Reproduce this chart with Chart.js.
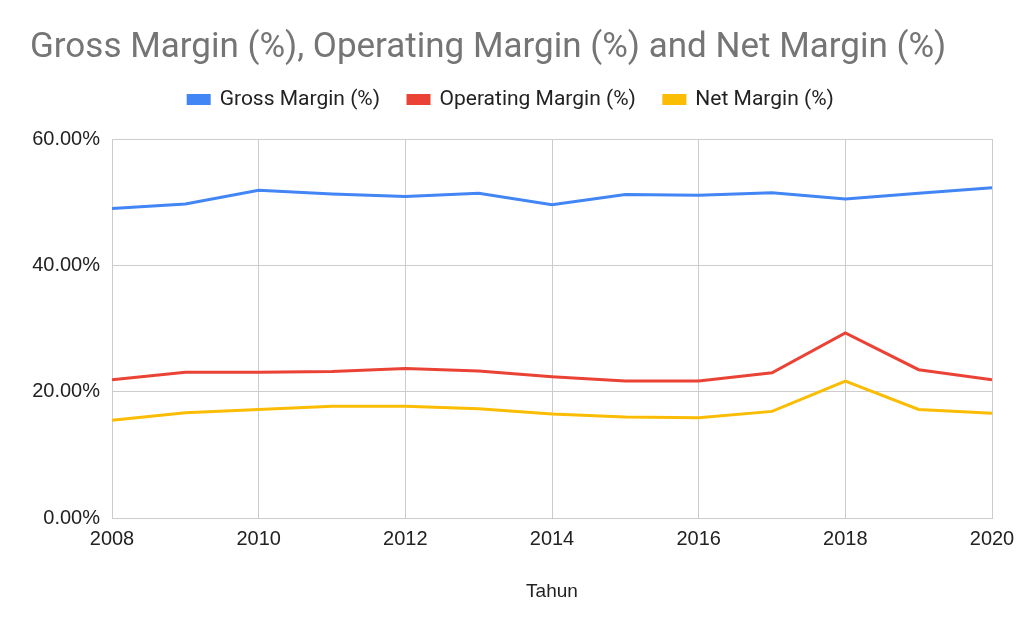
<!DOCTYPE html>
<html>
<head>
<meta charset="utf-8">
<script src="https://cdn.jsdelivr.net/npm/chart.js@4"></script>
<style>
html,body{margin:0;padding:0;background:#fff;}
#wrap{width:1024px;height:633px;position:relative;}
</style>
</head>
<body>
<div id="wrap"><canvas id="c"></canvas></div>
<script>
const years = [2008, 2009, 2010, 2011, 2012, 2013, 2014, 2015, 2016, 2017, 2018, 2019, 2020];
const grossMargin = [49.0, 49.7, 51.9, 51.3, 50.9, 51.4, 49.6, 51.2, 51.1, 51.5, 50.5, 51.4, 52.3];
const operatingMargin = [21.9, 23.1, 23.1, 23.2, 23.7, 23.3, 22.4, 21.7, 21.7, 23.0, 29.3, 23.5, 21.9];
const netMargin = [15.5, 16.7, 17.2, 17.7, 17.7, 17.3, 16.5, 16.0, 15.9, 16.9, 21.7, 17.2, 16.6];
const seriesNames = ['Gross Margin (%)', 'Operating Margin (%)', 'Net Margin (%)'];
const titleText = 'Gross Margin (%), Operating Margin (%) and Net Margin (%)';
const xTitle = 'Tahun';

const toPts = arr => arr.map((v, i) => ({x: years[i], y: v}));
const font = 'Roboto, Liberation Sans, Arial, sans-serif';
const font2 = 'Liberation Sans, Arial, sans-serif';

const legendSpacer = {
  id: 'legendSpacer',
  beforeLayout(chart) {
    const lg = chart.legend;
    if (lg && !lg._spacerWrapped) {
      const orig = lg.fit;
      lg.fit = function () { orig.call(this); this.height += 19; };
      lg._spacerWrapped = true;
    }
  }
};

new Chart(document.getElementById('c'), {
  type: 'line',
  data: {
    datasets: [
      {label: seriesNames[0], data: toPts(grossMargin), borderColor: '#4285F4', backgroundColor: '#4285F4'},
      {label: seriesNames[1], data: toPts(operatingMargin), borderColor: '#EA4335', backgroundColor: '#EA4335'},
      {label: seriesNames[2], data: toPts(netMargin), borderColor: '#FBBC04', backgroundColor: '#FBBC04'}
    ]
  },
  plugins: [legendSpacer],
  options: {
    responsive: true,
    maintainAspectRatio: false,
    animation: false,
    devicePixelRatio: 1,
    elements: {line: {borderWidth: 3, tension: 0}, point: {radius: 0, hoverRadius: 0}},
    layout: {padding: {left: 30, right: 32, top: 27, bottom: 26}},
    plugins: {
      title: {
        display: true, text: titleText, align: 'start', color: '#757575',
        font: {family: font, size: 35, weight: 'normal'}, padding: {top: 0, bottom: -8}
      },
      legend: {
        display: true, position: 'top', align: 'center',
        labels: {color: '#222', font: {family: font, size: 21}, boxWidth: 21, boxHeight: 8, padding: 28}
      },
      tooltip: {enabled: false}
    },
    scales: {
      x: {
        type: 'linear', min: 2008, max: 2020,
        ticks: {stepSize: 2, color: '#222', font: {family: font2, size: 20}, padding: 9,
          callback: v => String(v), maxRotation: 0},
        grid: {color: '#cccccc', lineWidth: 1, drawTicks: false},
        border: {color: '#cccccc'},
        title: {display: true, text: xTitle, color: '#222', font: {family: font2, size: 19}, padding: {top: 20}}
      },
      y: {
        min: 0, max: 60,
        afterFit: s => { s.width = 82; },
        ticks: {stepSize: 20, color: '#222', font: {family: font2, size: 20}, padding: 12,
          callback: v => v.toFixed(2) + '%'},
        grid: {color: ctx => ctx.tick && ctx.tick.value === 0 ? '#333333' : '#cccccc', lineWidth: 1, drawTicks: false},
        border: {color: '#cccccc'}
      }
    }
  }
});
</script>
</body>
</html>
